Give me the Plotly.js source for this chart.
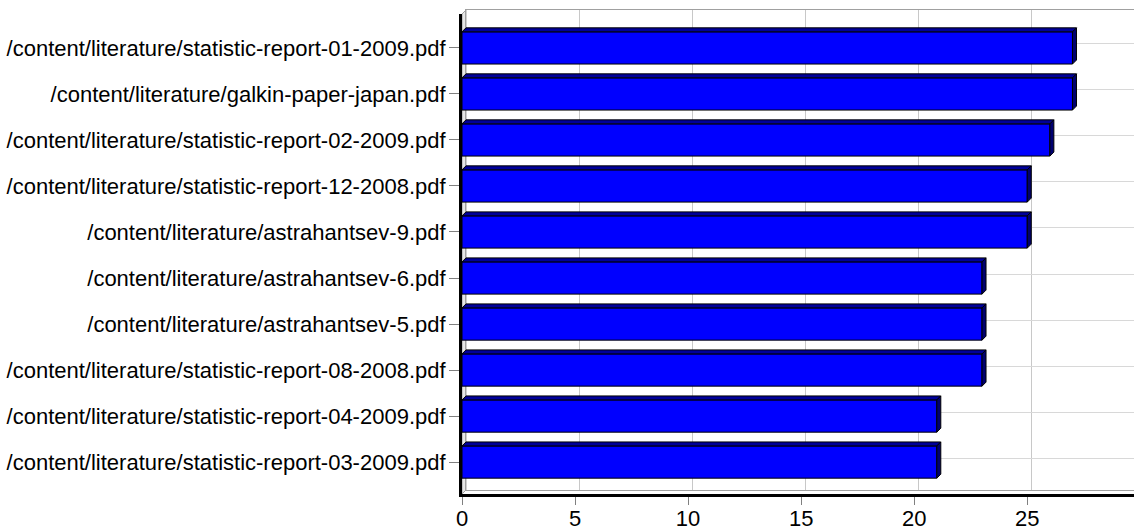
<!DOCTYPE html>
<html>
<head>
<meta charset="utf-8">
<script src="https://cdn.plot.ly/plotly-3.0.1.min.js"></script>
<style>
  html, body { margin: 0; padding: 0; background: #ffffff; }
  #chart { width: 1134px; height: 530px; }
</style>
</head>
<body>
<div id="chart"></div>
<script>
// ---- data ----
const categories = [
  "/content/literature/statistic-report-01-2009.pdf",
  "/content/literature/galkin-paper-japan.pdf",
  "/content/literature/statistic-report-02-2009.pdf",
  "/content/literature/statistic-report-12-2008.pdf",
  "/content/literature/astrahantsev-9.pdf",
  "/content/literature/astrahantsev-6.pdf",
  "/content/literature/astrahantsev-5.pdf",
  "/content/literature/statistic-report-08-2008.pdf",
  "/content/literature/statistic-report-04-2009.pdf",
  "/content/literature/statistic-report-03-2009.pdf"
];
const values = [27, 27, 26, 25, 25, 23, 23, 23, 21, 21];
const xTickVals = [0, 5, 10, 15, 20, 25];

// ---- geometry (layout only) ----
const W = 1134, H = 530;
const M = { l: 462, r: 0, t: 10, b: 36 };
const plotW = W - M.l - M.r;   // 672
const plotH = H - M.t - M.b;
const pxPerUnit = 22.61;
const xMax = plotW / pxPerUnit;
const depth = 4;               // 3D depth in px
const yLo = 9.694, yHi = -0.7375; // reversed category index range
const catPx = (plotH - depth) / (yLo - yHi);
const half = 0.35;             // half bar thickness (bargap 0.3)
const dx = depth / pxPerUnit;
const dy = depth / catPx;

const idx = categories.map((_, i) => i);

// top and side faces built from the data values
const topX = [], topY = [], sideX = [], sideY = [];
values.forEach((v, i) => {
  const t = i - half, b = i + half;
  topX.push(0, v, v + dx, dx, 0, null);
  topY.push(t, t, t - dy, t - dy, t, null);
  sideX.push(v, v + dx, v + dx, v, v, null);
  sideY.push(t, t - dy, b - dy, b, t, null);
});

const traces = [
  // back wall subplot (gridlines only)
  { type: 'scatter', x: [0], y: [0], xaxis: 'x', yaxis: 'y', mode: 'markers',
    marker: { opacity: 0 }, hoverinfo: 'skip', showlegend: false },
  // front bars
  { type: 'bar', orientation: 'h', x: values, y: idx, xaxis: 'x2', yaxis: 'y2',
    marker: { color: '#0000FF', line: { color: '#000000', width: 1 } },
    hoverinfo: 'x+text', text: categories, textposition: 'none', showlegend: false },
  { type: 'scatter', x: topX, y: topY, xaxis: 'x2', yaxis: 'y2', mode: 'lines',
    fill: 'toself', fillcolor: '#000099', line: { color: '#000000', width: 1 },
    hoverinfo: 'skip', showlegend: false },
  { type: 'scatter', x: sideX, y: sideY, xaxis: 'x2', yaxis: 'y2', mode: 'lines',
    fill: 'toself', fillcolor: '#000070', line: { color: '#000000', width: 1 },
    hoverinfo: 'skip', showlegend: false }
];

const font = { family: '"Liberation Sans", Arial, sans-serif', size: 22, color: '#000000' };

const layout = {
  width: W, height: H,
  margin: M,
  paper_bgcolor: '#ffffff',
  plot_bgcolor: 'rgba(0,0,0,0)',
  font: font,
  showlegend: false,
  bargap: 0.3,
  xaxis: {
    domain: [depth / plotW, 1], range: [0, xMax - dx], anchor: 'y',
    tickvals: xTickVals, showticklabels: false, ticks: '',
    showgrid: true, gridcolor: '#c8c8c8', gridwidth: 1, zeroline: false,
    showline: true, linecolor: '#a0a0a0', linewidth: 1, mirror: true
  },
  yaxis: {
    domain: [depth / plotH, 1], range: [yLo, yHi], anchor: 'x',
    tickvals: idx, showticklabels: false, ticks: '',
    showgrid: true, gridcolor: '#d8d8d8', gridwidth: 1, zeroline: false,
    showline: true, linecolor: '#a0a0a0', linewidth: 1, mirror: false
  },
  xaxis2: {
    domain: [0, 1], range: [0, xMax], anchor: 'y2',
    tickvals: xTickVals, ticktext: xTickVals.map(String),
    ticks: 'outside', ticklen: 8, tickcolor: '#808080', tickwidth: 1,
    ticklabelstandoff: -5,
    showgrid: false, zeroline: false,
    showline: true, linecolor: '#000000', linewidth: 3,
    tickfont: font
  },
  yaxis2: {
    domain: [0, 1 - depth / plotH], range: [yLo, yHi], anchor: 'x2',
    tickvals: idx, ticktext: categories,
    ticks: 'outside', ticklen: 10, tickcolor: '#808080', tickwidth: 1,
    ticklabelstandoff: -1,
    showgrid: false, zeroline: false,
    showline: true, linecolor: '#000000', linewidth: 3,
    tickfont: font
  },
  shapes: [
    { type: 'path', xref: 'paper', yref: 'paper', layer: 'below',
      path: 'M 0 0 L 0 ' + (1 - depth / plotH) + ' L ' + (depth / plotW) + ' 1 L ' +
            (depth / plotW) + ' ' + (depth / plotH) + ' Z',
      fillcolor: '#e6e6e6', line: { color: '#a0a0a0', width: 1 } }
  ]
};

Plotly.newPlot('chart', traces, layout, { displayModeBar: false, staticPlot: false });
</script>
</body>
</html>
